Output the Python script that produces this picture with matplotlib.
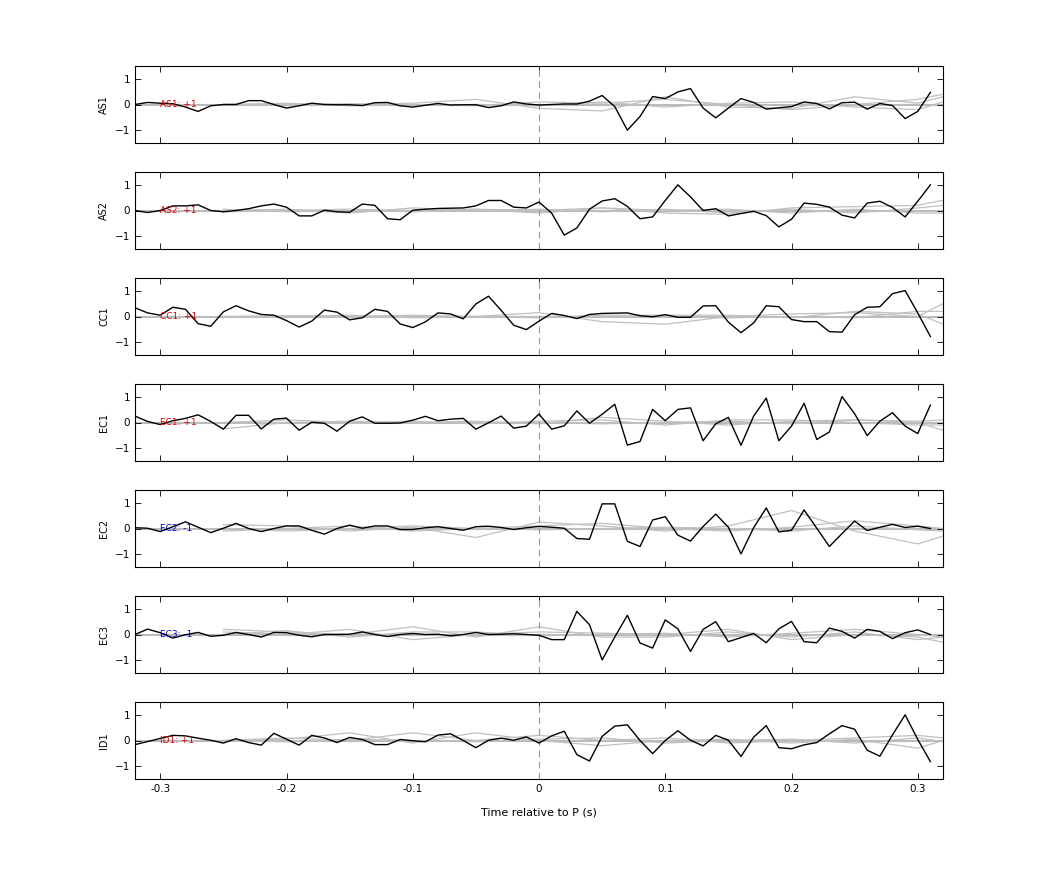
import numpy as np
import matplotlib
matplotlib.use("Agg")
import matplotlib.pyplot as plt

t = np.round(np.arange(-0.32, 0.315, 0.01), 2)
names = ["AS1", "AS2", "CC1", "EC1", "EC2", "EC3", "ID1"]
signs = ["+1", "+1", "+1", "+1", "-1", "-1", "+1"]

AS1 = [0,0.08,0.05,0.03,-0.1,-0.27,-0.05,0,0,0.15,0.15,0,-0.14,-0.05,0.05,0,-0.01,-0.01,-0.04,0.07,0.08,-0.05,-0.1,-0.03,0.04,-0.02,-0.01,-0.01,-0.12,-0.05,0.1,0.02,-0.02,0.0,0.02,0.02,0.13,0.35,-0.08,-1.0,-0.47,0.31,0.23,0.49,0.62,-0.14,-0.52,-0.14,0.23,0.08,-0.18,-0.13,-0.08,0.1,0.04,-0.17,0.07,0.09,-0.18,0.04,-0.04,-0.55,-0.27,0.47]
AS2 = [0,-0.08,0,0.18,0.18,0.22,0,-0.05,0,0.07,0.18,0.25,0.13,-0.21,-0.21,0.01,-0.05,-0.07,0.25,0.2,-0.32,-0.36,0.01,0.05,0.08,0.09,0.1,0.18,0.39,0.39,0.13,0.1,0.33,-0.1,-0.96,-0.68,0.05,0.37,0.46,0.16,-0.32,-0.25,0.39,1.0,0.53,0,0.07,-0.21,-0.12,-0.03,-0.2,-0.64,-0.34,0.29,0.24,0.13,-0.18,-0.29,0.29,0.36,0.12,-0.25,0.36,1.0]
CC1 = [0.34,0.14,0.05,0.36,0.28,-0.28,-0.38,0.18,0.42,0.22,0.08,0.05,-0.16,-0.41,-0.18,0.25,0.17,-0.13,-0.05,0.28,0.2,-0.29,-0.43,-0.21,0.14,0.1,-0.09,0.49,0.79,0.24,-0.34,-0.51,-0.18,0.12,0.04,-0.08,0.08,0.12,0.13,0.14,0.03,-0.01,0.07,-0.03,-0.03,0.41,0.42,-0.22,-0.63,-0.25,0.42,0.38,-0.12,-0.2,-0.2,-0.59,-0.61,0.07,0.36,0.38,0.89,1.01,0.14,-0.78]
EC1 = [0.25,0.04,-0.08,0.07,0.16,0.3,0.04,-0.26,0.28,0.28,-0.25,0.13,0.17,-0.3,0.01,-0.03,-0.34,0.05,0.22,-0.03,-0.03,-0.02,0.09,0.24,0.07,0.13,0.16,-0.26,-0.01,0.25,-0.22,-0.14,0.33,-0.26,-0.13,0.45,-0.03,0.32,0.71,-0.88,-0.74,0.51,0.07,0.51,0.57,-0.71,-0.05,0.2,-0.89,0.25,0.95,-0.71,-0.14,0.75,-0.66,-0.37,1.01,0.34,-0.51,0.05,0.38,-0.14,-0.43,0.68]
EC2 = [0.03,0.01,-0.12,0.07,0.26,0.05,-0.16,0.01,0.2,0,-0.12,0,0.1,0.1,-0.07,-0.22,0,0.13,0.01,0.1,0.1,-0.04,-0.04,0.03,0.07,0,-0.07,0.07,0.09,0.04,-0.04,0.03,0.08,0.05,0.01,-0.39,-0.42,0.96,0.96,-0.5,-0.7,0.33,0.46,-0.26,-0.49,0.08,0.56,0.05,-0.99,0.03,0.8,-0.13,-0.07,0.72,0.01,-0.7,-0.2,0.29,-0.08,0.05,0.16,0.04,0.09,0]
EC3 = [0,0.21,0.07,-0.14,-0.01,0.08,-0.07,-0.03,0.08,0,-0.1,0.08,0.07,-0.03,-0.09,0,0,0.01,0.1,0,-0.08,0,0.04,0,0.01,-0.05,0,0.08,0,0.01,0.03,0,-0.03,-0.2,-0.2,0.9,0.38,-0.99,-0.1,0.75,-0.33,-0.53,0.57,0.22,-0.66,0.2,0.5,-0.28,-0.12,0.04,-0.32,0.22,0.51,-0.28,-0.32,0.25,0.12,-0.14,0.2,0.12,-0.16,0.07,0.18,0]
ID1 = [-0.16,-0.04,0.08,0.2,0.18,0.09,0.01,-0.1,0.07,-0.08,-0.18,0.28,0.05,-0.18,0.2,0.1,-0.08,0.12,0.04,-0.16,-0.16,0.04,-0.01,-0.05,0.21,0.26,0,-0.28,0.01,0.09,0.01,0.14,-0.1,0.18,0.36,-0.55,-0.8,0.16,0.56,0.61,0,-0.51,0,0.38,0.01,-0.21,0.2,0.01,-0.62,0.13,0.58,-0.28,-0.32,-0.17,-0.08,0.26,0.58,0.44,-0.38,-0.61,0.22,1.0,0.04,-0.82]
series = [AS1, AS2, CC1, EC1, EC2, EC3, ID1]

# gray comparison traces, sampled every 0.05 s
gx = [-0.25,-0.20,-0.15,-0.10,-0.05,0.0,0.05,0.10,0.15,0.20,0.25,0.30,0.32]
gray = [
 [[0,-0.05,0,0.05,0.2,-0.15,-0.25,0.3,-0.1,-0.15,0.3,0.05,0.3],
  [0,0.05,-0.05,0,-0.05,0.1,0.05,0.2,0,-0.2,0,0.2,0.4],
  [0,0,0.03,-0.02,0,-0.05,0.1,-0.1,0.05,0.1,-0.1,-0.2,0.1]],
 [[-0.05,0,0.05,0,0.05,-0.1,0.1,-0.1,-0.15,0.1,0.15,0.2,0.4],
  [0,0.05,-0.1,0.1,0,0.05,-0.05,0.05,-0.1,0.05,-0.1,0.1,0.2],
  [0.05,-0.05,0,-0.05,0.05,0,0.1,0,0.05,-0.1,0.05,-0.1,-0.1]],
 [[0,0,0.05,-0.05,0,0.15,-0.2,-0.3,0,0.1,0.15,0,0.5],
  [0,0.03,0,0.05,0,-0.05,0.05,0.05,0.05,-0.05,0.2,0.1,-0.3],
  [0,-0.03,0,-0.03,0,0,0,0,-0.05,0,-0.05,0.2,0.2]],
 [[-0.25,0,0.05,0,0.05,-0.05,0.2,0.05,-0.1,0.05,0.1,0,-0.3],
  [0,0.1,0,0.05,-0.05,0.05,0.1,-0.1,0.1,0.1,0,-0.1,-0.1],
  [0,0,-0.03,0,0,0,-0.05,0,0.05,-0.05,0.1,0.05,0.1]],
 [[0.15,0.1,-0.1,0.05,-0.35,0.25,0.1,-0.1,0.1,0.7,-0.1,-0.6,-0.3],
  [0,-0.1,0,0.1,0,0.1,0.2,0,-0.1,0.05,0.3,0.1,0],
  [-0.1,0,0.1,-0.1,0,-0.05,0,0.05,0,-0.1,0.1,-0.05,-0.1]],
 [[0.2,0.1,0,0.3,-0.1,0.3,-0.1,-0.1,0.1,-0.1,0.1,-0.2,-0.1],
  [0.1,0,0.2,-0.2,0,0.1,0.05,0,0.2,-0.2,0,-0.1,-0.3],
  [0,0.15,-0.1,0.1,0.1,-0.05,0,0.05,-0.1,0.05,0.2,0,-0.1]],
 [[0,0.05,0.3,-0.1,0.3,0,-0.2,0,0.05,-0.1,0.05,-0.3,0],
  [0,0.1,0,0.3,0,0.2,0,0.1,-0.1,0,0.1,0.2,0.1],
  [0,-0.05,0.05,0,-0.05,0.05,0.1,-0.1,0,0.05,-0.1,0.1,-0.05]],
]

fig = plt.figure(figsize=(10.42, 8.75), dpi=100)
W, H = 1042, 875
left, right = 135, 943
tops = [66, 172, 278, 384, 490, 596, 702]
ph = 77
for i, nm in enumerate(names):
    ax = fig.add_axes([left / W, 1 - (tops[i] + ph) / H, (right - left) / W, ph / H])
    ax.axhline(0, color="#bbbbbb", lw=1.5, zorder=1)
    for g in gray[i]:
        ax.plot(gx, g, color="#c0c0c0", lw=0.9, zorder=2)
    ax.axvline(0, color="#d08080", lw=0.8, ls=(0, (6, 4)), zorder=2)
    ax.plot(t, series[i], color="black", lw=1.0, zorder=3)
    col = "#dd0000" if signs[i] == "+1" else "#0000cc"
    ax.text(-0.300, 0, f"{nm}: {signs[i]}", color=col, fontsize=6.5, va="center", ha="left", zorder=4)
    ax.set_xlim(-0.32, 0.32)
    ax.set_ylim(-1.5, 1.5)
    ax.set_yticks([-1, 0, 1])
    ax.set_xticks([-0.3, -0.2, -0.1, 0, 0.1, 0.2, 0.3])
    ax.tick_params(direction="in", top=True, right=True, labelsize=7.5, length=4, width=0.6)
    ax.set_ylabel(nm, fontsize=7)
    for s in ax.spines.values():
        s.set_linewidth(0.8)
    if i < len(names) - 1:
        ax.set_xticklabels([])
    else:
        ax.set_xticklabels(["-0.3", "-0.2", "-0.1", "0", "0.1", "0.2", "0.3"])
        ax.set_xlabel("Time relative to P (s)", fontsize=8, labelpad=10)

fig.savefig("out.png", dpi=100)
